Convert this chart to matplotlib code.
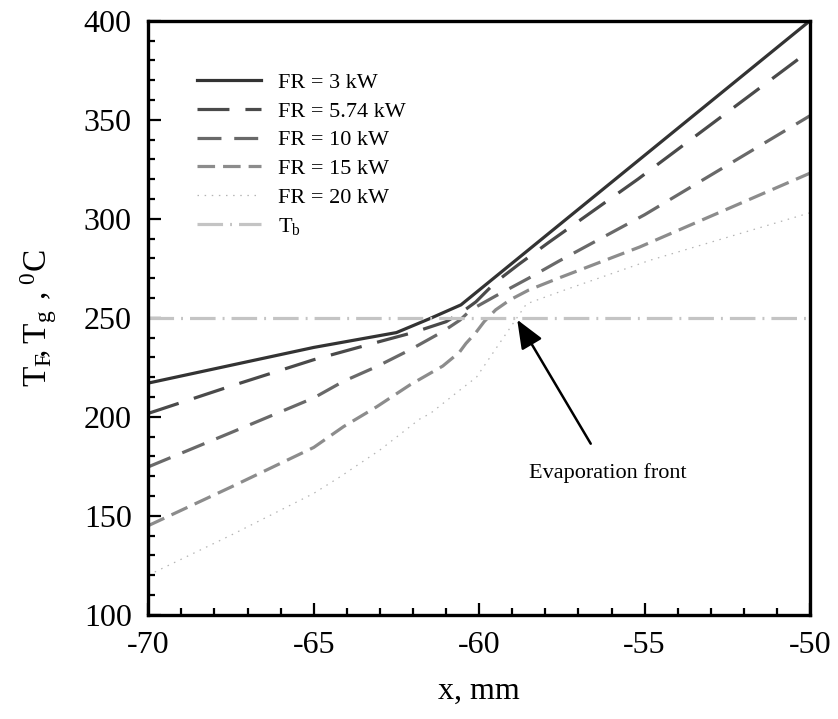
import numpy as np
import matplotlib.pyplot as plt
from matplotlib.ticker import MultipleLocator

plt.rcParams['font.family'] = ['Liberation Serif', 'DejaVu Serif']
plt.rcParams['mathtext.fontset'] = 'custom'
plt.rcParams['mathtext.rm'] = 'Liberation Serif'
plt.rcParams['axes.unicode_minus'] = False

# ---------- temperature profiles along x (mm) ----------

x_fr3 = [-70, -67.5, -65, -62.5, -61.5, -60.55, -50]
t_fr3 = [217, 226, 235, 242.5, 249.5, 256.5, 400]

x_fr574 = [-70, -67.5, -65, -63, -62, -61, -60.55, -60.1, -59.5, -58.8, -57.9, -55.2, -50]
t_fr574 = [201.7, 215.5, 228.8, 238, 242.5, 248, 252.5, 258, 268, 277, 288, 320, 385]

x_fr10 = [-70, -67.5, -65, -64.1, -63.1, -62.1, -61.1, -60.58, -60.25, -59.5, -58.5, -57.6, -55, -50]
t_fr10 = [174.7, 192, 209.5, 217.9, 225.3, 233.7, 243, 248.8, 254, 261, 270, 278.5, 302, 352]

x_fr15 = [-70, -67.5, -65, -64.1, -63.1, -62.1, -61.1, -60.6, -60.4, -60.1, -59.85,
          -59.5, -59.07, -58.5, -57.6, -55.15, -50]
t_fr15 = [145, 164.5, 184.5, 195, 205, 216, 225.6, 232.5, 237, 242.5, 248,
          254, 259, 264, 270, 285.7, 323]

x_fr20 = [-70, -67.5, -65, -64.2, -63, -61.8, -61.48, -60.58, -60.08, -59.47, -58.57,
          -57.5, -54.84, -50]
t_fr20 = [120, 140.2, 161.3, 169.7, 183.2, 198.8, 201.6, 213.5, 220, 235, 257,
          263.5, 279, 303]

x_tb = [-70, -50]
t_tb = [250, 250]

labels = ['FR = 3 kW', 'FR = 5.74 kW', 'FR = 10 kW', 'FR = 15 kW', 'FR = 20 kW',
          r'$\mathregular{T_b}$']

# arrow pointing at the evaporation front
front_xy = (-58.85, 249)
front_text_xy = (-56.1, 171.5)


def main():
    fig = plt.figure(figsize=(8.38, 7.19), dpi=100)
    ax = fig.add_axes([0.177, 0.145, 0.7896, 0.8262])

    lw = 2.3
    ax.plot(x_fr3, t_fr3, color='#333333', lw=lw, label=labels[0])
    ax.plot(x_fr574, t_fr574, color='#4a4a4a', lw=lw, dashes=(10, 5), label=labels[1])
    ax.plot(x_fr10, t_fr10, color='#696969', lw=lw, dashes=(7.5, 4), label=labels[2])
    ax.plot(x_fr15, t_fr15, color='#8c8c8c', lw=lw, dashes=(5.5, 2.5), label=labels[3])
    ax.plot(x_fr20, t_fr20, color='#b4b4b4', lw=0.9, dashes=(1.2, 4.5), label=labels[4])
    ax.plot(x_tb, t_tb, color='#c4c4c4', lw=lw, dashes=(8, 2.2, 0.6, 2.2), label=labels[5])

    ax.annotate('Evaporation front', xy=front_xy, xytext=front_text_xy,
                ha='center', va='center', fontsize=16,
                arrowprops=dict(arrowstyle='-|>,head_length=1.1,head_width=0.45',
                                color='black', lw=1.8, shrinkA=14, shrinkB=0))

    ax.set_xlim(-70, -50)
    ax.set_ylim(100, 400)
    ax.xaxis.set_major_locator(MultipleLocator(5))
    ax.xaxis.set_minor_locator(MultipleLocator(1))
    ax.yaxis.set_major_locator(MultipleLocator(50))
    ax.yaxis.set_minor_locator(MultipleLocator(10))
    ax.tick_params(which='both', direction='in', top=False, right=False, width=1.6,
                   labelsize=23)
    ax.tick_params(which='major', length=9, pad=12)
    ax.tick_params(which='minor', length=5)
    for sp in ax.spines.values():
        sp.set_linewidth(2.4)

    ax.set_xlabel('x, mm', fontsize=23, labelpad=12)
    ax.set_ylabel(r'$\mathregular{T_F\!,T_g\ ,{}^0C}$', fontsize=24, labelpad=18)

    ax.legend(loc='upper left', bbox_to_anchor=(0.0736, 0.913), frameon=False,
              fontsize=16, handlelength=2.9, handletextpad=0.75, labelspacing=0.37,
              borderpad=0, borderaxespad=0)

    fig.savefig('out.png', dpi=100)


if __name__ == '__main__':
    main()
